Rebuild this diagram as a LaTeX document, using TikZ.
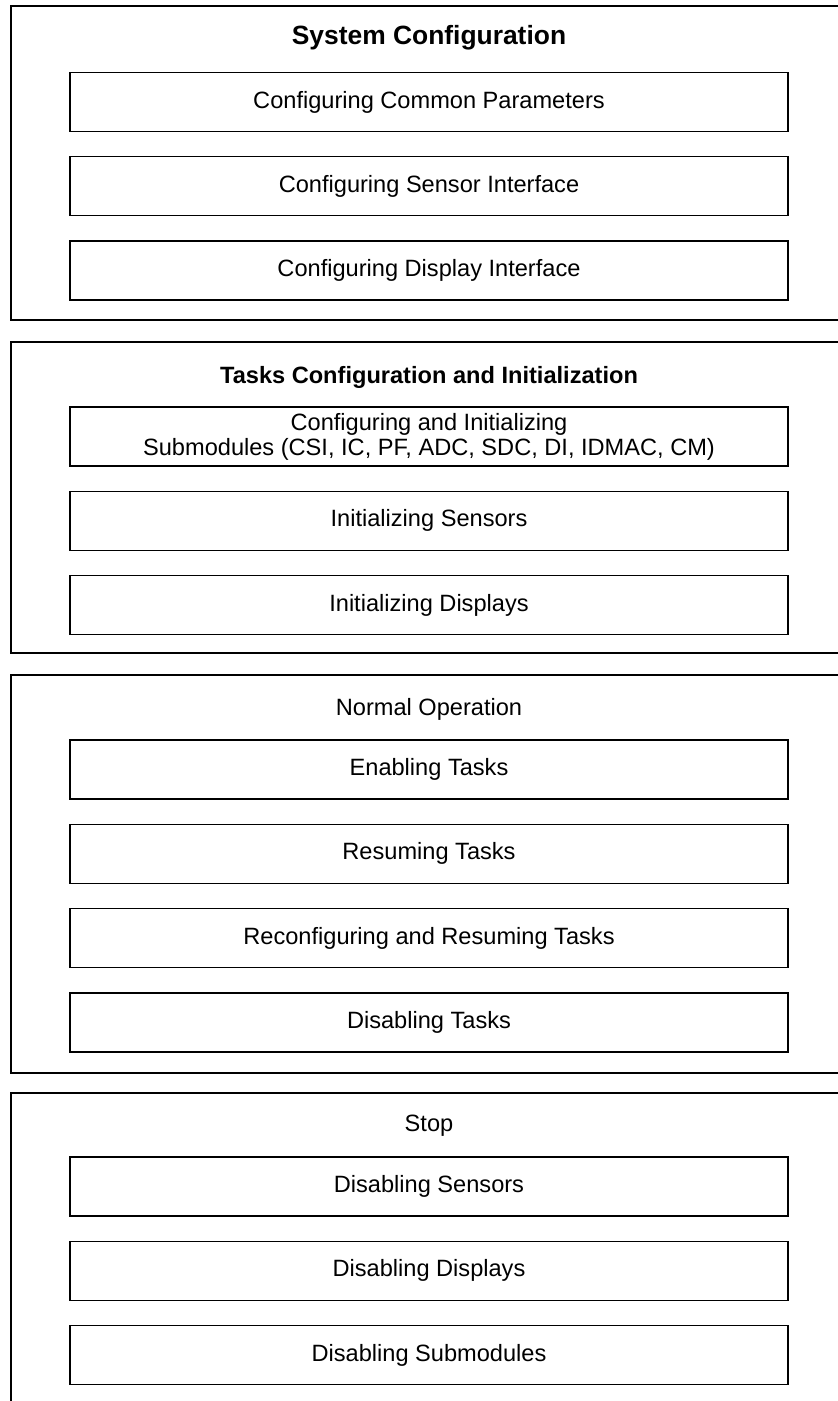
\documentclass[tikz,border=0pt]{standalone}
\usepackage{fontspec}
\setmainfont{Liberation Sans}
\usetikzlibrary{positioning}

\tikzset{
  stepbox/.style={draw,line width=.65pt,minimum width=359pt,minimum height=29.5pt,
    inner sep=0pt,align=center,font=\fontsize{11.8pt}{12.5pt}\selectfont},
  grouptitle/.style={inner sep=0pt,font=\fontsize{11.8pt}{12.5pt}\selectfont},
  groupframe/.style={line width=1pt}
}

\begin{document}
\begin{tikzpicture}[x=.5pt,y=-.5pt,node distance=12pt]
  \useasboundingbox (0,0) rectangle (838,1401);
  % system configuration
  \draw[groupframe] (838,6) -| (11,320) -- (838,320);
  \node[grouptitle,font=\fontsize{13.2pt}{14pt}\selectfont\bfseries] (sysTitle) at (429,38) {System Configuration};
  \node[stepbox] (cfgCommon) at (429,102) {Configuring Common Parameters};
  \node[stepbox,below=of cfgCommon] (cfgSensor) {Configuring Sensor Interface};
  \node[stepbox,below=of cfgSensor] (cfgDisplay) {Configuring Display Interface};
  % tasks configuration
  \draw[groupframe] (838,342) -| (11,653) -- (838,653);
  \node[grouptitle,font=\fontsize{11.8pt}{12.5pt}\selectfont\bfseries] (taskTitle) at (429,377) {Tasks Configuration and Initialization};
  \node[stepbox] (initSub) at (429,436.5) {Configuring and Initializing\\Submodules (CSI, IC, PF, ADC, SDC, DI, IDMAC, CM)};
  \node[stepbox,below=of initSub] (initSensor) {Initializing Sensors};
  \node[stepbox,below=of initSensor] (initDisplay) {Initializing Displays};
  % normal operation
  \draw[groupframe] (838,675) -| (11,1073) -- (838,1073);
  \node[grouptitle] (normTitle) at (429,709) {Normal Operation};
  \node[stepbox] (enTask) at (429,769.5) {Enabling Tasks};
  \node[stepbox,below=of enTask] (resTask) {Resuming Tasks};
  \node[stepbox,below=of resTask] (reconfTask) {Reconfiguring and Resuming Tasks};
  \node[stepbox,below=of reconfTask] (disTask) {Disabling Tasks};
  % stop
  \draw[groupframe] (838,1093) -| (11,1401);
  \node[grouptitle] (stopTitle) at (429,1126) {Stop};
  \node[stepbox] (disSensor) at (429,1186.5) {Disabling Sensors};
  \node[stepbox,below=of disSensor] (disDisplay) {Disabling Displays};
  \node[stepbox,below=of disDisplay] (disSub) {Disabling Submodules};
\end{tikzpicture}
\end{document}
